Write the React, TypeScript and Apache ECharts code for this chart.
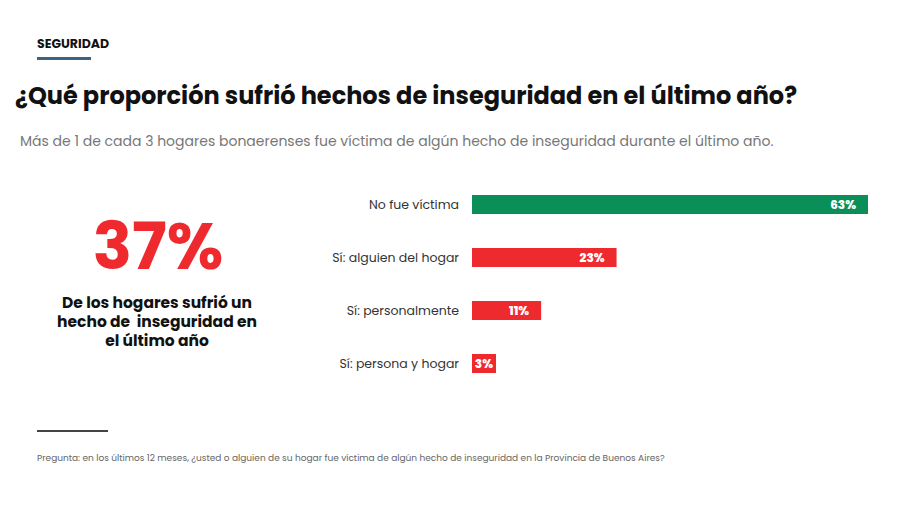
import React, { useEffect, useRef } from "react";
import * as echarts from "echarts";

const categories = ["No fue víctima", "Sí: alguien del hogar", "Sí: personalmente", "Sí: persona y hogar"];
const values = [63, 23, 11, 3];
const barColors = ["#0a8f58", "#ee2a2e", "#ee2a2e", "#ee2a2e"];
const headline = "37%";
const headlineText = ["De los hogares sufrió un", "hecho de  inseguridad en", "el último año"];
const section = "SEGURIDAD";
const title = "¿Qué proporción sufrió hechos de inseguridad en el último año?";
const subtitle = "Más de 1 de cada 3 hogares bonaerenses fue víctima de algún hecho de inseguridad durante el último año.";
const footnote = "Pregunta: en los últimos 12 meses, ¿usted o alguien de su hogar fue víctima de algún hecho de inseguridad en la Provincia de Buenos Aires?";

const FONT = "Poppins, Inter, 'Noto Sans', sans-serif";

export default function App() {
  const ref = useRef<HTMLDivElement>(null);
  useEffect(() => {
    document.body.style.margin = "0";
    const chart = echarts.init(ref.current!, null, { renderer: "svg" });
    chart.setOption({
      animation: false,
      backgroundColor: "#ffffff",
      textStyle: { fontFamily: FONT },
      grid: { left: 472, right: 32, top: 178, height: 212, containLabel: false },
      xAxis: {
        type: "value",
        min: 0,
        max: 63,
        show: false,
      },
      yAxis: {
        type: "category",
        data: categories,
        inverse: true,
        axisLine: { show: false },
        axisTick: { show: false },
        splitLine: { show: false },
        axisLabel: { color: "#333333", fontSize: 12.5, margin: 13, fontFamily: FONT },
      },
      series: [
        {
          type: "bar",
          data: values.map((v, i) => ({
            value: v,
            itemStyle: { color: barColors[i] },
            label: { distance: v >= 10 ? 12 : 3 },
          })),
          barWidth: 19,
          barMinHeight: 24,
          label: {
            show: true,
            position: "insideRight",
            formatter: (p: any) => `${p.value}%`,
            color: "#ffffff",
            fontWeight: 800,
            fontSize: 12,
            fontFamily: FONT,
          },
        },
      ],
      graphic: [
        { type: "text", left: 37, top: 37, style: { text: section, fontSize: 12.5, fontWeight: "bold", fontFamily: FONT, fill: "#111111" } },
        { type: "rect", shape: { x: 37, y: 57, width: 54, height: 3 }, style: { fill: "#3d6384" } },
        { type: "text", left: 15, top: 83, style: { text: title, fontSize: 24, fontWeight: "bold", fontFamily: FONT, fill: "#111111" } },
        { type: "text", left: 20, top: 134, style: { text: subtitle, fontSize: 14, fontFamily: FONT, fill: "#777777" } },
        {
          type: "text",
          x: 158,
          y: 246,
          style: {
            text: headline,
            fontSize: 65,
            fontWeight: "bold",
            fontFamily: FONT,
            lineHeight: 50,
            fill: "#ee2a2e",
            align: "center",
            verticalAlign: "middle",
          },
        },
        ...headlineText.map((t, i) => ({
          type: "text",
          x: 157,
          y: 302 + i * 19,
          style: {
            text: t,
            fontSize: 15.5,
            fontWeight: "bold",
            fontFamily: FONT,
            lineHeight: 18,
            fill: "#111111",
            align: "center",
            verticalAlign: "middle",
          },
        })),
        { type: "rect", shape: { x: 37, y: 430, width: 71, height: 2 }, style: { fill: "#444444" } },
        { type: "text", left: 37, top: 453, style: { text: footnote, fontSize: 9, fontFamily: FONT, fill: "#666666" } },
      ],
    });
    return () => chart.dispose();
  }, []);
  return <div ref={ref} style={{ width: 900, height: 505 }} />;
}
